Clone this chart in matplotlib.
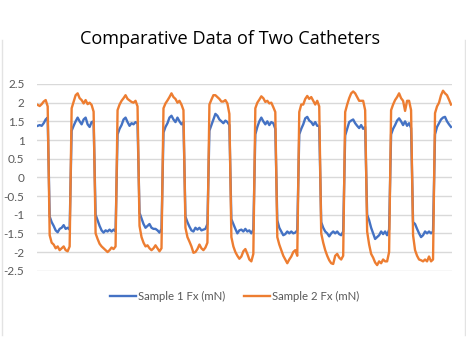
import numpy as np
import matplotlib
matplotlib.use("Agg")
import matplotlib.pyplot as plt
from matplotlib.lines import Line2D

# Sample index (one reading every 2 samples)
time = np.arange(0, 416, 2)

sample1_fx = [
    1.38, 1.40, 1.38, 1.45, 1.55, 1.60,
    -1.05, -1.20, -1.30, -1.42, -1.47, -1.38, -1.35, -1.28, -1.38, -1.35, -1.40,
    1.25, 1.38, 1.50, 1.60, 1.50, 1.42, 1.55, 1.60, 1.42, 1.35, 1.48, 1.50,
    -1.00, -1.15, -1.30, -1.42, -1.48, -1.42, -1.45, -1.40, -1.45, -1.40, -1.45,
    1.15, 1.30, 1.40, 1.55, 1.60, 1.48, 1.38, 1.45, 1.42, 1.48, 1.45,
    -0.95, -1.10, -1.25, -1.35, -1.30, -1.25, -1.35, -1.38, -1.38, -1.42, -1.48, -1.38,
    1.20, 1.35, 1.45, 1.60, 1.65, 1.55, 1.48, 1.60, 1.50, 1.42, 1.48,
    -1.05, -1.20, -1.32, -1.42, -1.45, -1.35, -1.40, -1.35, -1.42, -1.40, -1.38, -1.25,
    1.25, 1.40, 1.55, 1.70, 1.65, 1.55, 1.50, 1.45, 1.52, 1.48, 1.40,
    -1.12, -1.25, -1.38, -1.50, -1.42, -1.40, -1.45, -1.38, -1.45, -1.42, -1.50, -1.40,
    1.15, 1.35, 1.50, 1.60, 1.50, 1.42, 1.50, 1.40, 1.48, 1.45, 1.30,
    -1.15, -1.35, -1.45, -1.55, -1.52, -1.45, -1.50, -1.45, -1.50, -1.48, -1.42,
    1.15, 1.30, 1.42, 1.58, 1.62, 1.52, 1.48, 1.40, 1.48, 1.38, 1.38,
    -1.20, -1.35, -1.45, -1.50, -1.58, -1.50, -1.45, -1.50, -1.45, -1.52, -1.55, -1.45,
    1.12, 1.30, 1.48, 1.52, 1.55, 1.45, 1.38, 1.32, 1.40, 1.30, 1.35,
    -1.00, -1.15, -1.35, -1.50, -1.65, -1.60, -1.55, -1.45, -1.52, -1.45, -1.55, -1.40,
    1.15, 1.30, 1.40, 1.52, 1.58, 1.50, 1.40, 1.50, 1.38, 1.45, 1.32,
    -1.20, -1.25, -1.38, -1.50, -1.60, -1.55, -1.45, -1.50, -1.45, -1.50, -1.45,
    1.15, 1.35, 1.45, 1.55, 1.60, 1.62, 1.50, 1.42, 1.35,
]

sample2_fx = [
    1.94, 1.91, 1.96, 2.03, 2.07, 1.90,
    -1.55, -1.75, -1.80, -1.90, -1.85, -1.95, -1.90, -1.85, -1.95, -1.98, -1.85,
    1.85, 2.03, 2.20, 2.25, 2.12, 2.07, 1.98, 2.07, 1.96, 2.00, 1.94, 1.76,
    -1.50, -1.65, -1.78, -1.85, -1.90, -1.95, -2.00, -1.95, -1.88, -1.92, -1.85,
    1.80, 1.95, 2.05, 2.12, 2.20, 2.10, 2.06, 2.02, 2.00, 2.05, 1.90,
    -1.30, -1.60, -1.75, -1.85, -1.82, -1.90, -1.95, -1.90, -1.82, -1.90, -1.98, -1.90,
    1.85, 1.98, 2.06, 2.15, 2.25, 2.15, 2.10, 2.00, 2.05, 1.95, 1.80,
    -1.35, -1.60, -1.72, -1.85, -2.02, -2.00, -1.92, -1.80, -1.90, -1.95, -1.88, -1.75,
    1.95, 2.08, 2.20, 2.20, 2.15, 2.10, 2.03, 2.03, 2.07, 1.98, 1.70,
    -1.60, -1.85, -2.00, -2.10, -2.18, -2.12, -1.98, -1.92, -2.05, -2.20, -2.25, -2.05,
    1.85, 2.00, 2.08, 2.17, 2.12, 2.02, 2.05, 1.98, 2.00, 1.88, 1.75,
    -1.60, -1.80, -1.95, -2.10, -2.20, -2.30, -2.20, -2.12, -2.00, -1.95, -2.10,
    1.75, 1.95, 1.95, 2.10, 2.18, 2.10, 2.15, 2.05, 1.95, 2.05, 1.90,
    -1.50, -1.75, -1.95, -2.10, -2.22, -2.30, -2.32, -2.10, -2.05, -2.15, -2.20, -2.10,
    1.75, 1.95, 2.12, 2.25, 2.30, 2.25, 2.15, 2.05, 2.05, 2.05, 1.80,
    -1.45, -1.80, -2.05, -2.15, -2.28, -2.35, -2.25, -2.30, -2.20, -2.25, -2.25, -2.00,
    1.80, 1.95, 2.07, 2.15, 2.25, 2.12, 2.05, 1.78, 2.05, 2.05, 1.80,
    -1.55, -1.95, -2.10, -2.20, -2.22, -2.25, -2.20, -2.25, -2.12, -2.25, -2.20,
    1.72, 1.90, 2.00, 2.20, 2.32, 2.25, 2.20, 2.08, 1.95,
]

y_ticks = [2.5, 2, 1.5, 1, 0.5, 0, -0.5, -1, -1.5, -2, -2.5]
y_tick_labels = ["2.5", "2", "1.5", "1", "0.5", "0", "-0.5", "-1", "-1.5", "-2", "-2.5"]
series_names = ["Sample 1 Fx (mN)", "Sample 2 Fx (mN)"]
title = "Comparative Data of Two Catheters"

BLUE = "#4472C4"
ORANGE = "#ED7D31"
GRID = "#D9D9D9"
TEXT = "#595959"

W, H = 466, 350
fig = plt.figure(figsize=(W / 100, H / 100), dpi=100)
fig.patch.set_facecolor("white")

# faint chart-area outline on the sides
fig.add_artist(Line2D([1.5 / W, 1.5 / W], [1 - 335 / H, 1 - 40 / H], color="#E3E3E3", lw=1.0))
fig.add_artist(Line2D([1 - 1.5 / W, 1 - 1.5 / W], [1 - 335 / H, 1 - 40 / H], color="#E3E3E3", lw=1.0))

left, right = 37 / W, 452 / W
top, bottom = 1 - 84 / H, 1 - 270.7 / H
ax = fig.add_axes([left, bottom, right - left, top - bottom])

ax.plot(time, sample1_fx, color=BLUE, lw=1.7, solid_joinstyle="round", label=series_names[0], zorder=3)
ax.plot(time, sample2_fx, color=ORANGE, lw=1.7, solid_joinstyle="round", label=series_names[1], zorder=4)

ax.set_xlim(-0.7, 415)
ax.set_ylim(-2.5, 2.5)
ax.set_yticks(y_ticks)
ax.set_yticklabels(y_tick_labels, fontsize=8.5, color=TEXT, family="Lato")
ax.set_xticks([])
ax.tick_params(axis="y", length=0, pad=9)
ax.grid(axis="y", color=GRID, lw=1.0)
ax.set_axisbelow(True)
for s in ax.spines.values():
    s.set_visible(False)

fig.text(230.5 / W, 1 - 39.5 / H, title, ha="center", va="center", fontsize=13.1,
         family="Open Sans", color="#000000")

handles = [Line2D([0], [0], color=BLUE, lw=1.7), Line2D([0], [0], color=ORANGE, lw=1.7)]
fig.legend(handles, series_names, loc="center", bbox_to_anchor=(234.5 / W, 1 - 296 / H),
           ncol=2, frameon=False, handlelength=2.3, handletextpad=0.1, columnspacing=1.7,
           prop={"family": "Lato", "size": 8.2}, labelcolor=TEXT)

fig.savefig("out.png", dpi=100, facecolor="white")
